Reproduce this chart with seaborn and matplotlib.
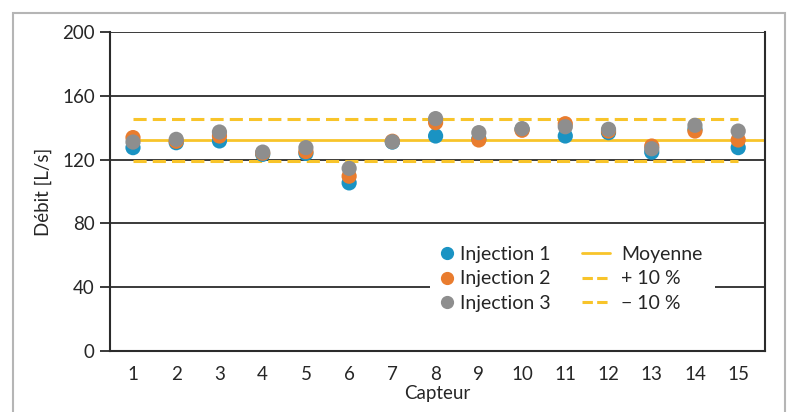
import matplotlib
matplotlib.use("Agg")
import matplotlib.pyplot as plt
from matplotlib.lines import Line2D
from matplotlib.patches import Rectangle
import numpy as np
import pandas as pd
import seaborn as sns

# values
capteurs = list(range(1, 16))
injection_1 = [127.5, 130.6, 131.7, 123.3, 123.9, 105.4, 131.0, 134.8, 133.0, 139.0, 134.8, 136.9, 124.7, 139.0, 127.5]
injection_2 = [133.8, 131.5, 134.8, 124.0, 125.0, 109.6, 131.5, 143.2, 132.3, 138.4, 142.5, 137.9, 128.5, 137.9, 132.3]
injection_3 = [131.0, 132.7, 137.3, 124.7, 127.5, 114.5, 131.2, 145.7, 136.9, 139.4, 140.6, 139.0, 126.8, 141.5, 137.9]
series_names = ["Injection 1", "Injection 2", "Injection 3"]
moyenne = 132.2
tolerance = 0.10

colors = {"Injection 1": "#1a93c3", "Injection 2": "#e97c2e", "Injection 3": "#8e8e8e"}
yellow = "#f8c42a"

df = pd.DataFrame({
    "Capteur": capteurs * 3,
    "Débit": injection_1 + injection_2 + injection_3,
    "Injection": [n for n in series_names for _ in capteurs],
})

sns.set_style("white")
plt.rcParams["font.family"] = ["Lato", "DejaVu Sans"]

W, H = 789, 412
fig = plt.figure(figsize=(W / 100, H / 100), dpi=100)
ax = fig.add_axes([110 / W, 1 - 351 / H, 655 / W, 319 / H])

# outer light grey frame
fig.patches.append(Rectangle((13 / W, -0.2), (785 - 13) / W, 1.2 - 13 / H,
                             transform=fig.transFigure, fill=False,
                             edgecolor="#b5b5b5", linewidth=1.5, zorder=0))

# grid lines
for yv in [40, 80, 120, 160, 200]:
    ax.axhline(yv, color="#2b2b2b", linewidth=1.3, zorder=1)

# mean and +/- 10 %
dash = (4.3, 2)
ax.plot([1, 15.62], [moyenne, moyenne], color=yellow, linewidth=2, zorder=2)
ax.plot([1, 15], [moyenne * (1 + tolerance)] * 2, color=yellow, linewidth=2.2,
        dashes=dash, zorder=2)
ax.plot([1, 15], [moyenne * (1 - tolerance)] * 2, color=yellow, linewidth=2.2,
        dashes=dash, zorder=2)

sns.scatterplot(data=df, x="Capteur", y="Débit", hue="Injection", palette=colors,
                s=120, linewidth=0, alpha=1, ax=ax, legend=False, zorder=3)

ax.set_xlim(0.468, 15.62)
ax.set_ylim(0, 200)
ax.set_xticks(capteurs)
ax.set_yticks([0, 40, 80, 120, 160, 200])
ax.tick_params(axis="y", left=True, direction="out", length=7, width=1.3,
               color="#2b2b2b", labelsize=13.5, pad=4)
ax.tick_params(axis="x", bottom=False, labelsize=13.5, pad=7.5)
ax.set_xlabel("Capteur", fontsize=13.5, labelpad=1.5)
ax.set_ylabel("Débit [L/s]", fontsize=13.5, labelpad=7)

for side in ["left", "right", "bottom"]:
    ax.spines[side].set_color("#2b2b2b")
    ax.spines[side].set_linewidth(1.5)
ax.spines["top"].set_visible(False)

# white area behind the legend, hiding the grid line
ax.add_patch(Rectangle(((430 - 110) / 655, (351 - 312) / 319), 285 / 655, 72 / 319,
                       transform=ax.transAxes, facecolor="white", edgecolor="none",
                       zorder=4))

dot_handles = [Line2D([], [], marker="o", linestyle="", markersize=8.5, color=colors[n])
               for n in series_names]
line_handles = [
    Line2D([], [], color=yellow, linewidth=2),
    Line2D([], [], color=yellow, linewidth=2.2, dashes=(3.4, 1.4)),
    Line2D([], [], color=yellow, linewidth=2.2, dashes=(3.4, 1.4)),
]
y_leg = (351 - 279) / 319
leg1 = ax.legend(dot_handles, series_names, loc="center left",
                 bbox_to_anchor=((422 - 110) / 655, y_leg), frameon=False,
                 fontsize=14, handlelength=0.8, handletextpad=0.24,
                 labelspacing=0.39, borderpad=0.4)
leg1.set_zorder(5)
ax.add_artist(leg1)
leg2 = ax.legend(line_handles, ["Moyenne", "+ 10 %", "\u2212 10 %"], loc="center left",
                 bbox_to_anchor=((564 - 110) / 655, y_leg), frameon=False,
                 fontsize=14, handlelength=1.45, handletextpad=0.57,
                 labelspacing=0.39, borderpad=0.4)
leg2.set_zorder(5)

fig.savefig("out.png", dpi=100)
